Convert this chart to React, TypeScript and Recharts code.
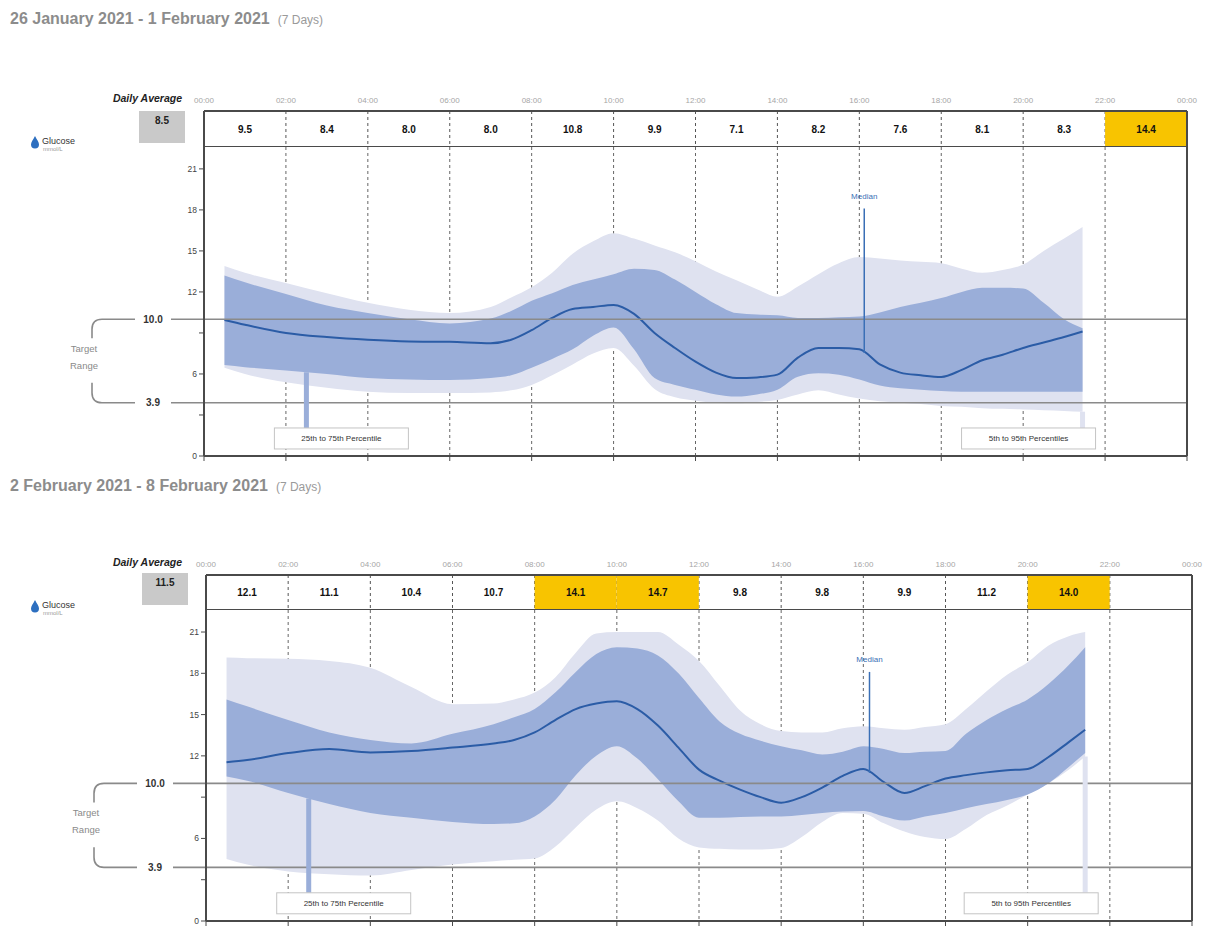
import React from 'react';
import {
  ComposedChart,
  Area,
  Bar,
  Cell,
  LabelList,
  Line,
  XAxis,
  YAxis,
  CartesianGrid,
  ReferenceLine,
} from 'recharts';

// ---------- shared ticks ----------
const HOUR_TICKS = [0, 2, 4, 6, 8, 10, 12, 14, 16, 18, 20, 22, 24];
const Y_TICKS = [0, 3, 6, 9, 12, 15, 18, 21];
const Y_TOP = 22.6;
const HIGH_LIMIT = 13.9;
const TARGET_HIGH = 10.0;
const TARGET_LOW = 3.9;

// ---------- period 1: 26 Jan - 1 Feb 2021 ----------
const P1_TITLE = '26 January 2021 - 1 February 2021';
const P1_AVG = 8.5;
const P1_CELLS: (number | null)[] = [9.5, 8.4, 8.0, 8.0, 10.8, 9.9, 7.1, 8.2, 7.6, 8.1, 8.3, 14.4];
const P1_HOURS = [0.5, 1, 2, 3, 4, 5, 6, 7, 7.5, 8, 8.5, 9, 9.5, 10, 10.5, 11, 11.5, 12, 12.5, 13, 13.5, 14, 14.5, 15, 15.5, 16, 16.5, 17, 17.5, 18, 18.5, 19, 19.5, 20, 20.5, 21, 21.45];
const P1_P5 = [6.45, 6.0, 5.4, 5.0, 4.7, 4.6, 4.6, 4.65, 4.8, 5.2, 5.9, 6.7, 7.5, 7.9, 6.6, 4.9, 4.3, 4.05, 3.9, 3.85, 3.95, 4.1, 4.5, 4.8, 4.5, 4.2, 4.0, 3.9, 3.8, 3.65, 3.6, 3.5, 3.45, 3.4, 3.35, 3.3, 3.24];
const P1_P25 = [6.65, 6.5, 6.25, 6.0, 5.7, 5.6, 5.56, 5.7, 5.9, 6.45, 7.1, 7.8, 8.8, 9.4, 7.8, 5.7, 5.2, 4.85, 4.5, 4.35, 4.5, 4.85, 5.8, 6.05, 5.95, 5.6, 5.15, 4.95, 4.85, 4.75, 4.7, 4.7, 4.7, 4.7, 4.7, 4.7, 4.7];
const P1_P50 = [9.95, 9.6, 9.0, 8.7, 8.5, 8.38, 8.35, 8.25, 8.5, 9.2, 10.1, 10.75, 10.9, 11.05, 10.4, 9.0, 7.9, 6.9, 6.1, 5.7, 5.75, 5.95, 7.2, 7.9, 7.9, 7.8, 6.7, 6.1, 5.9, 5.78, 6.3, 7.0, 7.4, 7.9, 8.3, 8.7, 9.1];
const P1_P75 = [13.2, 12.7, 11.85, 11.0, 10.45, 10.0, 9.7, 10.05, 10.6, 11.35, 11.9, 12.5, 12.9, 13.3, 13.7, 13.6, 12.9, 12.0, 11.1, 10.45, 10.35, 10.3, 10.1, 10.1, 10.15, 10.2, 10.5, 10.9, 11.2, 11.55, 12.0, 12.3, 12.3, 12.25, 11.2, 10.0, 9.35];
const P1_P95 = [13.9, 13.4, 12.65, 11.9, 11.2, 10.7, 10.45, 10.9, 11.6, 12.35, 13.4, 14.8, 15.7, 16.3, 15.9, 15.4, 14.9, 14.25, 13.5, 12.85, 12.2, 11.65, 12.4, 13.3, 14.1, 14.55, 14.45, 14.3, 14.2, 14.1, 13.7, 13.4, 13.6, 14.0, 15.0, 15.9, 16.75];
const P1_MEDIAN_MARK = 16.12;

// ---------- period 2: 2 Feb - 8 Feb 2021 ----------
const P2_TITLE = '2 February 2021 - 8 February 2021';
const P2_AVG = 11.5;
const P2_CELLS: (number | null)[] = [12.1, 11.1, 10.4, 10.7, 14.1, 14.7, 9.8, 9.8, 9.9, 11.2, 14.0, null];
const P2_HOURS = [0.5, 1, 2, 3, 4, 5, 6, 7, 7.5, 8, 8.5, 9, 9.5, 10, 10.5, 11, 11.5, 12, 12.5, 13, 13.5, 14, 14.5, 15, 15.5, 16, 16.5, 17, 17.5, 18, 18.5, 19, 19.5, 20, 20.5, 21, 21.4];
const P2_P5 = [4.5, 4.1, 3.6, 3.4, 3.3, 3.7, 4.1, 4.35, 4.45, 4.55, 5.4, 6.8, 8.1, 8.7, 8.2, 7.3, 6.0, 5.35, 5.25, 5.2, 5.2, 5.3, 6.1, 7.2, 7.85, 7.8, 7.1, 6.5, 6.1, 5.95, 6.7, 7.7, 8.4, 9.2, 10.0, 11.0, 11.95];
const P2_P25 = [10.5, 10.2, 9.3, 8.5, 7.85, 7.5, 7.2, 7.05, 7.1, 7.6, 8.8, 10.6, 12.0, 12.7, 11.8, 10.3, 8.7, 7.5, 7.5, 7.55, 7.6, 7.6, 7.7, 7.85, 7.95, 8.0, 7.6, 7.3, 7.6, 7.85, 8.2, 8.5, 8.8, 9.2, 10.0, 11.2, 12.2];
const P2_P50 = [11.54, 11.7, 12.2, 12.5, 12.25, 12.35, 12.6, 12.9, 13.15, 13.7, 14.6, 15.4, 15.8, 15.97, 15.4, 14.2, 12.6, 11.0, 10.2, 9.55, 9.0, 8.6, 9.0, 9.7, 10.55, 11.05, 10.1, 9.3, 9.8, 10.35, 10.6, 10.8, 10.95, 11.05, 11.9, 13.0, 13.9];
const P2_P75 = [16.1, 15.6, 14.6, 13.7, 13.15, 12.9, 13.6, 14.3, 14.8, 15.4, 16.6, 18.1, 19.4, 19.9, 19.8, 19.3, 18.0, 16.2, 14.5, 13.6, 13.1, 12.7, 12.4, 12.1, 12.3, 12.7, 12.5, 12.2, 12.3, 12.35, 13.6, 14.6, 15.4, 16.1, 17.2, 18.6, 19.9];
const P2_P95 = [19.15, 19.1, 19.05, 18.9, 18.4, 17.0, 15.75, 15.8, 16.1, 16.6, 17.7, 19.5, 20.9, 21.0, 21.0, 21.0, 20.1, 18.9, 17.1, 15.3, 14.3, 13.8, 13.7, 13.7, 14.0, 14.15, 14.0, 13.9, 14.1, 14.3, 15.4, 16.7, 17.9, 18.8, 20.0, 20.7, 21.0];
const P2_MEDIAN_MARK = 16.15;

// ---------- helpers ----------
const W = 1213;
const LIGHT = '#dfe2f0';
const DARK = '#9aaed9';
const MEDIAN = '#2b5ca6';
const BORDER = '#4a4a4a';
const YELLOW = '#f8c400';
const LEGEND_TOP = 2.05;

const fmtHour = (h: number) => `${String(h % 24).padStart(2, '0')}:00`;

function interp(xs: number[], ys: number[], x: number): number {
  if (x <= xs[0]) return ys[0];
  for (let i = 1; i < xs.length; i++) {
    if (x <= xs[i]) {
      const t = (x - xs[i - 1]) / (xs[i] - xs[i - 1]);
      return ys[i - 1] + t * (ys[i] - ys[i - 1]);
    }
  }
  return ys[ys.length - 1];
}

const targetShape = (text: string, upper: boolean) => (p: any) => {
  const { x1, y1, x2 } = p;
  const bx = x1 - 112;
  const r = 10;
  const d = upper
    ? `M${bx} ${y1 + 19} L${bx} ${y1 + r} Q${bx} ${y1} ${bx + r} ${y1} L${x2} ${y1}`
    : `M${bx} ${y1 - 20} L${bx} ${y1 - r} Q${bx} ${y1} ${bx + r} ${y1} L${x2} ${y1}`;
  return (
    <g>
      <path d={d} fill="none" stroke="#8a8a8a" strokeWidth={1.6} />
      <rect x={x1 - 69} y={y1 - 7} width={36} height={14} fill="#fff" />
      <text x={x1 - 51} y={y1 + 3.5} textAnchor="middle" fontSize={10} fontWeight="bold" fill="#333">
        {text}
      </text>
      {upper && (
        <text x={bx - 8} y={y1 + 33} textAnchor="middle" fontSize={9.5} fill="#8a8a8a">
          Target
        </text>
      )}
      {upper && (
        <text x={bx - 8} y={y1 + 50} textAnchor="middle" fontSize={9.5} fill="#8a8a8a">
          Range
        </text>
      )}
    </g>
  );
};

const medianShape = (p: any) => {
  const top = Math.min(p.y1, p.y2);
  const bot = Math.max(p.y1, p.y2);
  return (
    <g>
      <line x1={p.x1} x2={p.x1} y1={top} y2={bot} stroke="#3a6fb6" strokeWidth={1.5} />
      <text x={p.x1} y={top - 10} textAnchor="middle" fontSize={8} fill="#3a6fb6">
        Median
      </text>
    </g>
  );
};

const legendShape = (text: string, color: string, offL: number, w: number) => (p: any) => {
  const x = p.x1;
  const top = Math.min(p.y1, p.y2);
  const bot = Math.max(p.y1, p.y2);
  return (
    <g>
      <line x1={x} x2={x} y1={top} y2={bot} stroke={color} strokeWidth={5} />
      <rect x={x + offL} y={bot} width={w} height={21} fill="#fff" stroke="#c4c4c4" />
      <text x={x + offL + w / 2} y={bot + 13.5} textAnchor="middle" fontSize={8} fill="#333">
        {text}
      </text>
    </g>
  );
};

type Geo = {
  titleTop: number;
  headerTop: number;
  headerBottom: number;
  zeroY: number;
  plotLeft: number;
  plotRight: number;
  avgLeft: number;
  avgTop: number;
};

type PanelProps = {
  title: string;
  avg: number;
  cells: (number | null)[];
  hours: number[];
  p5: number[];
  p25: number[];
  p50: number[];
  p75: number[];
  p95: number[];
  medianMark: number;
  g: Geo;
};

function Panel({ title, avg, cells, hours, p5, p25, p50, p75, p95, medianMark, g }: PanelProps) {
  const rows = hours.map((h, i) => ({
    h,
    outer: [p5[i], p95[i]],
    inner: [p25[i], p75[i]],
    p50: p50[i],
  }));
  const cellRows = cells.map((v, i) => ({
    slot: i,
    mid: i * 2 + 1,
    one: 1,
    label: v == null ? '' : v.toFixed(1),
  }));
  const headerH = g.headerBottom - g.headerTop;
  const lastH = hours[hours.length - 1];
  const lastP5 = p5[p5.length - 1];
  const legH = 2.5;
  const medAt = interp(hours, p50, medianMark);

  return (
    <>
      <div
        style={{
          position: 'absolute',
          left: 10,
          top: g.titleTop,
          fontSize: 16,
          lineHeight: '16px',
          fontWeight: 'bold',
          color: '#8c8c8c',
          whiteSpace: 'nowrap',
        }}
      >
        {title}
        <span style={{ fontSize: 12, fontWeight: 'normal', color: '#9a9a9a', marginLeft: 8 }}>(7 Days)</span>
      </div>

      <div
        style={{
          position: 'absolute',
          left: 40,
          width: 142,
          textAlign: 'right',
          top: g.headerTop - 19,
          fontSize: 10.5,
          lineHeight: '12px',
          fontWeight: 'bold',
          fontStyle: 'italic',
          color: '#222',
        }}
      >
        Daily Average
      </div>

      <div
        style={{
          position: 'absolute',
          left: g.avgLeft,
          top: g.avgTop,
          width: 46,
          height: 32,
          background: '#c9c9c9',
          fontSize: 10,
          fontWeight: 'bold',
          color: '#222',
          display: 'flex',
          alignItems: 'flex-start',
          justifyContent: 'center',
          paddingTop: 4,
          boxSizing: 'border-box',
        }}
      >
        {avg.toFixed(1)}
      </div>

      <svg style={{ position: 'absolute', left: 30, top: g.headerTop + 24 }} width={12} height={14}>
        <path d="M5 1 C7 5 9 7 9 9.5 A4 4 0 0 1 1 9.5 C1 7 3 5 5 1 Z" fill="#2d6fc0" />
      </svg>
      <div
        style={{
          position: 'absolute',
          left: 42,
          top: g.headerTop + 25,
          fontSize: 9,
          lineHeight: '10px',
          color: '#333',
        }}
      >
        Glucose
      </div>
      <div
        style={{
          position: 'absolute',
          left: 43,
          top: g.headerTop + 35,
          fontSize: 6,
          lineHeight: '7px',
          color: '#999',
        }}
      >
        mmol/L
      </div>

      {/* header row with 2-hour averages */}
      <div style={{ position: 'absolute', left: 0, top: g.headerTop - 26 }}>
        <ComposedChart
          width={W}
          height={26 + headerH}
          data={cellRows}
          barCategoryGap={0}
          barGap={0}
          margin={{ top: 0, right: W - g.plotRight, bottom: 0, left: g.plotLeft }}
        >
          <CartesianGrid xAxisId="time" vertical horizontal={false} stroke="#555" strokeDasharray="3 3" />
          <XAxis
            xAxisId="time"
            type="number"
            dataKey="mid"
            orientation="top"
            domain={[0, 24]}
            ticks={HOUR_TICKS}
            interval={0}
            tickFormatter={fmtHour}
            height={26}
            axisLine={false}
            tickLine={false}
            tickSize={0}
            tickMargin={8}
            tick={{ fontSize: 8, fill: '#a6a6a6' }}
          />
          <XAxis xAxisId="cat" type="category" dataKey="slot" hide />
          <YAxis hide type="number" domain={[0, 1]} />
          <Bar xAxisId="cat" dataKey="one" isAnimationActive={false}>
            {cells.map((v, i) => (
              <Cell key={i} fill={v != null && v > HIGH_LIMIT ? YELLOW : 'rgba(0,0,0,0)'} />
            ))}
            <LabelList dataKey="label" position="center" fontSize={10} fontWeight="bold" fill="#111" />
          </Bar>
          <ReferenceLine xAxisId="time" y={1} stroke={BORDER} strokeWidth={2} />
          <ReferenceLine xAxisId="time" y={0} stroke={BORDER} strokeWidth={2} />
          <ReferenceLine xAxisId="time" x={0} stroke={BORDER} strokeWidth={2} />
          <ReferenceLine xAxisId="time" x={24} stroke={BORDER} strokeWidth={2} />
        </ComposedChart>
      </div>

      {/* main AGP plot */}
      <div style={{ position: 'absolute', left: 0, top: g.headerBottom }}>
        <ComposedChart
          width={W}
          height={g.zeroY - g.headerBottom + 12}
          data={rows}
          margin={{ top: 0, right: W - g.plotRight, bottom: 0, left: g.plotLeft - 40 }}
        >
          <CartesianGrid vertical horizontal={false} stroke="#666" strokeDasharray="3 3" />
          <XAxis
            type="number"
            dataKey="h"
            domain={[0, 24]}
            ticks={HOUR_TICKS}
            interval={0}
            tickFormatter={() => ''}
            height={12}
            tickSize={5}
            axisLine={{ stroke: BORDER, strokeWidth: 2 }}
            tickLine={{ stroke: BORDER }}
          />
          <YAxis
            type="number"
            domain={[0, Y_TOP]}
            ticks={Y_TICKS}
            interval={0}
            allowDataOverflow
            width={40}
            tickSize={5}
            tickFormatter={(v: number) => (v === 3 || v === 9 ? '' : String(v))}
            tick={{ fontSize: 8.5, fill: '#444' }}
            axisLine={{ stroke: BORDER, strokeWidth: 2 }}
            tickLine={{ stroke: BORDER }}
          />
          <Area
            type="monotone"
            dataKey="outer"
            fill={LIGHT}
            fillOpacity={1}
            stroke="none"
            isAnimationActive={false}
            activeDot={false}
          />
          <Area
            type="monotone"
            dataKey="inner"
            fill={DARK}
            fillOpacity={1}
            stroke="none"
            isAnimationActive={false}
            activeDot={false}
          />
          <Line
            type="monotone"
            dataKey="p50"
            stroke={MEDIAN}
            strokeWidth={2}
            dot={false}
            activeDot={false}
            isAnimationActive={false}
          />
          <ReferenceLine y={TARGET_HIGH} shape={targetShape(TARGET_HIGH.toFixed(1), true)} />
          <ReferenceLine y={TARGET_LOW} shape={targetShape(TARGET_LOW.toFixed(1), false)} />
          <ReferenceLine x={24} stroke={BORDER} strokeWidth={2} />
          <ReferenceLine
            segment={[
              { x: medianMark, y: medAt },
              { x: medianMark, y: 18.1 },
            ]}
            shape={medianShape}
          />
          <ReferenceLine
            segment={[
              { x: legH, y: interp(hours, p25, legH) },
              { x: legH, y: LEGEND_TOP },
            ]}
            shape={legendShape('25th to 75th Percentile', DARK, -32, 134)}
          />
          <ReferenceLine
            segment={[
              { x: lastH, y: lastP5 },
              { x: lastH, y: LEGEND_TOP },
            ]}
            shape={legendShape('5th to 95th Percentiles', LIGHT, -121, 134)}
          />
        </ComposedChart>
      </div>
    </>
  );
}

const GEO1: Geo = {
  titleTop: 11,
  headerTop: 111,
  headerBottom: 147,
  zeroY: 456,
  plotLeft: 204,
  plotRight: 1187,
  avgLeft: 139,
  avgTop: 111,
};

const GEO2: Geo = {
  titleTop: 478,
  headerTop: 575,
  headerBottom: 610,
  zeroY: 921,
  plotLeft: 206,
  plotRight: 1192,
  avgLeft: 142,
  avgTop: 573,
};

export default function App() {
  return (
    <div
      style={{
        position: 'absolute',
        left: 0,
        top: 0,
        width: W,
        height: 933,
        background: '#fff',
        fontFamily: '"Liberation Sans", Arial, Helvetica, sans-serif',
        overflow: 'hidden',
      }}
    >
      <Panel
        title={P1_TITLE}
        avg={P1_AVG}
        cells={P1_CELLS}
        hours={P1_HOURS}
        p5={P1_P5}
        p25={P1_P25}
        p50={P1_P50}
        p75={P1_P75}
        p95={P1_P95}
        medianMark={P1_MEDIAN_MARK}
        g={GEO1}
      />
      <Panel
        title={P2_TITLE}
        avg={P2_AVG}
        cells={P2_CELLS}
        hours={P2_HOURS}
        p5={P2_P5}
        p25={P2_P25}
        p50={P2_P50}
        p75={P2_P75}
        p95={P2_P95}
        medianMark={P2_MEDIAN_MARK}
        g={GEO2}
      />
    </div>
  );
}
